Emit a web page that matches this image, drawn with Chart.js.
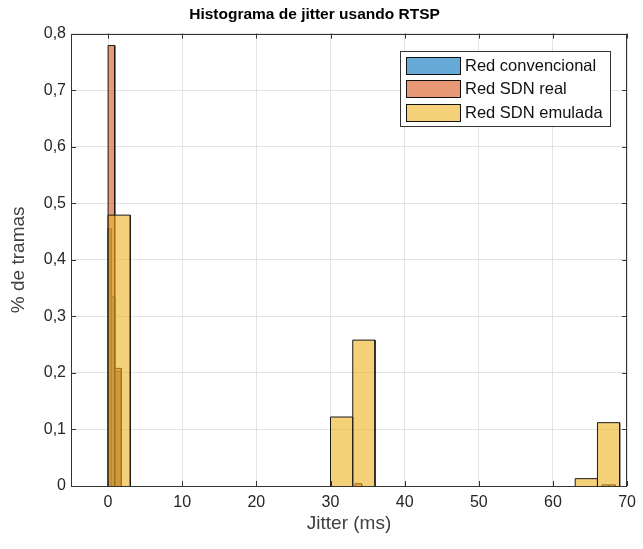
<!DOCTYPE html>
<html><head><meta charset="utf-8">
<script src="https://cdn.jsdelivr.net/npm/chart.js@4"></script>
<style>html,body{margin:0;padding:0;background:#fff;} #wrap{width:643px;height:549px;position:relative;}</style>
</head><body><div id="wrap"><canvas id="c"></canvas></div>
<script>
// ---- data ----
const chartTitle = 'Histograma de jitter usando RTSP';
const xAxisTitle = 'Jitter (ms)';
const yAxisTitle = '% de tramas';
const seriesNames = ['Red convencional', 'Red SDN real', 'Red SDN emulada'];

const convBinStarts = [0, 0.45, 0.9];
const convBinEnds   = [0.45, 0.9, 1.8];
const convValues    = [0.455, 0.335, 0.203];

const realBinStarts = [0, 0.9, 33.3, 66.6, 67.5];
const realBinEnds   = [0.9, 1.8, 34.2, 67.5, 68.4];
const realValues    = [0.779, 0.208, 0.004, 0.002, 0.002];

const emuBinStarts = [0, 30, 33, 63, 66];
const emuBinEnds   = [3, 33, 36, 66, 69];
const emuValues    = [0.479, 0.122, 0.258, 0.013, 0.112];

const xTickValues = [0, 10, 20, 30, 40, 50, 60, 70];
const yTickValues = [0, 0.1, 0.2, 0.3, 0.4, 0.5, 0.6, 0.7, 0.8];
const xLimits = [-5, 70];
const yLimits = [0, 0.8];

// ---- build ----
function histPoints(starts, ends, vals) {
  const pts = [];
  for (let i = 0; i < vals.length; i++) {
    if (i > 0 && starts[i] !== ends[i - 1]) pts.push({x: (ends[i - 1] + starts[i]) / 2, y: null});
    pts.push({x: starts[i], y: 0}, {x: starts[i], y: vals[i]}, {x: ends[i], y: vals[i]}, {x: ends[i], y: 0});
  }
  return pts;
}
const FONT = '"Liberation Sans", Arial, Helvetica, sans-serif';
const fills = ['rgba(0,114,189,0.6)', 'rgba(217,83,25,0.6)', 'rgba(237,177,32,0.6)'];
const mk = (i, pts, ord) => ({
  label: seriesNames[i], data: pts, order: ord,
  backgroundColor: fills[i], borderColor: '#1a1a1a', borderWidth: 1,
  fill: 'origin', pointRadius: 0, tension: 0, spanGaps: false
});

const framePlugin = {
  id: 'frame',
  afterDatasetsDraw(chart) {
    const {ctx, chartArea: a, scales: {x, y}} = chart;
    ctx.save();
    ctx.strokeStyle = '#333';
    ctx.lineWidth = 1;
    const tl = 5;
    ctx.beginPath();
    xTickValues.forEach(v => {
      const p = Math.round(x.getPixelForValue(v)) + 0.5;
      ctx.moveTo(p, a.bottom); ctx.lineTo(p, a.bottom - tl);
      ctx.moveTo(p, a.top); ctx.lineTo(p, a.top + tl);
    });
    yTickValues.forEach(v => {
      const p = Math.round(y.getPixelForValue(v)) + 0.5;
      ctx.moveTo(a.left, p); ctx.lineTo(a.left + tl, p);
      ctx.moveTo(a.right, p); ctx.lineTo(a.right - tl, p);
    });
    ctx.stroke();
    ctx.strokeRect(Math.round(a.left) + 0.5, Math.round(a.top) + 0.5,
                   Math.round(a.right - a.left) - 1, Math.round(a.bottom - a.top));
    // legend
    const bx = Math.round(a.right) - 227, by = Math.round(a.top) + 17, bw = 210, bh = 75;
    ctx.fillStyle = '#fff';
    ctx.fillRect(bx, by, bw, bh);
    ctx.strokeStyle = '#333';
    ctx.strokeRect(bx + 0.5, by + 0.5, bw, bh);
    ctx.font = '16.5px ' + FONT;
    ctx.textBaseline = 'middle';
    ctx.textAlign = 'left';
    chart.data.datasets.forEach((ds, i) => {
      const sy = by + 6 + i * 23.3;
      ctx.fillStyle = ds.backgroundColor;
      ctx.fillRect(bx + 6, Math.round(sy), 54, 17);
      ctx.strokeStyle = '#111';
      ctx.strokeRect(bx + 6.5, Math.round(sy) + 0.5, 54, 17);
      ctx.fillStyle = '#111';
      ctx.fillText(ds.label, bx + 65, Math.round(sy) + 9.5);
    });
    ctx.restore();
  }
};

new Chart(document.getElementById('c'), {
  type: 'line',
  data: {
    datasets: [
      mk(0, histPoints(convBinStarts, convBinEnds, convValues), 3),
      mk(1, histPoints(realBinStarts, realBinEnds, realValues), 2),
      mk(2, histPoints(emuBinStarts, emuBinEnds, emuValues), 1)
    ]
  },
  options: {
    responsive: true, maintainAspectRatio: false, animation: false,
    layout: {padding: {left: 0, right: 14, top: 0, bottom: 0}},
    plugins: {
      legend: {display: false},
      tooltip: {enabled: false},
      title: {display: true, text: chartTitle, color: '#000',
              font: {family: FONT, size: 15.5, weight: 'bold'}, padding: {top: 5, bottom: 10}}
    },
    scales: {
      x: {
        type: 'linear', min: xLimits[0], max: xLimits[1],
        afterBuildTicks: s => { s.ticks = xTickValues.map(v => ({value: v})); },
        afterFit: s => { s.height = 63; },
        grid: {color: '#e3e3e3', drawTicks: false},
        border: {display: false},
        ticks: {color: '#262626', font: {family: FONT, size: 16}, padding: 7, maxRotation: 0,
                callback: v => String(v)},
        title: {display: true, text: xAxisTitle, color: '#404040',
                font: {family: FONT, size: 19}, padding: {top: 0, bottom: 14}}
      },
      y: {
        type: 'linear', min: yLimits[0], max: yLimits[1],
        afterBuildTicks: s => { s.ticks = yTickValues.map(v => ({value: v})); },
        afterFit: s => { s.width = 71; },
        grid: {color: '#e3e3e3', drawTicks: false},
        border: {display: false},
        ticks: {color: '#262626', font: {family: FONT, size: 16}, padding: 5,
                callback: v => String(v).replace('.', ',')},
        title: {display: true, text: yAxisTitle, color: '#404040',
                font: {family: FONT, size: 19}, padding: {top: 7, bottom: 0}}
      }
    }
  },
  plugins: [framePlugin]
});
</script>
</body></html>
